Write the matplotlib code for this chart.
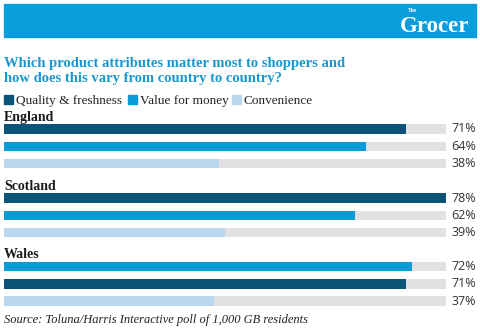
import matplotlib.pyplot as plt
import matplotlib.transforms as mtransforms
from matplotlib.patches import Rectangle

countries = ["England", "Scotland", "Wales"]
legend_names = ["Quality & freshness", "Value for money", "Convenience"]
# each group lists (series, value) in the order shown
group_series = [
    ["Quality & freshness", "Value for money", "Convenience"],
    ["Quality & freshness", "Value for money", "Convenience"],
    ["Value for money", "Quality & freshness", "Convenience"],
]
group_values = [
    [71, 64, 38],
    [78, 62, 39],
    [72, 71, 37],
]
colors = {"Quality & freshness": "#0b5377",
          "Value for money": "#0a9ad6",
          "Convenience": "#b9d7ef"}
track = "#e1e1e3"
blue = "#0a9ddb"

W, H = 480, 336
fig = plt.figure(figsize=(W / 100, H / 100), dpi=100)
fig.patch.set_facecolor("white")

def fx(x): return x / W
def fy(y): return 1 - y / H

# header band
fig.patches.append(Rectangle((fx(4), fy(37)), fx(472), 33 / H, transform=fig.transFigure,
                             color=blue, zorder=0))
fig.text(fx(469), fy(31.5), "Grocer", color="white", fontsize=16.5, fontweight="bold",
         family="Liberation Serif", ha="right", va="baseline")
fig.text(fx(413), fy(12.5), "The", color="white", fontsize=4, fontweight="bold",
         family="Liberation Serif", ha="center", va="baseline")

# title
fig.text(fx(4), fy(82), "Which product attributes matter most to shoppers and\nhow does this vary from country to country?",
         color="#1a97cf", fontsize=10.5, fontweight="bold", family="Liberation Serif",
         ha="left", va="baseline", linespacing=1.25)

# legend
lx = [4, 127.5, 232]
for name, x in zip(legend_names, lx):
    fig.patches.append(Rectangle((fx(x), fy(104)), fx(9), 9 / H, transform=fig.transFigure,
                                 color=colors[name]))
    fig.text(fx(x + 12), fy(104), name, fontsize=9.5, family="Liberation Serif",
             color="#222222", ha="left", va="baseline")

# bars
vmax = max(max(v) for v in group_values)
ax = fig.add_axes([fx(4), 0, fx(441.7), 1])
ax.set_xlim(0, vmax)
ax.set_ylim(H, 0)
ax.axis("off")
lab_tr = mtransforms.blended_transform_factory(fig.transFigure, ax.transData)

group_top = [129, 198, 266.5]
step = 17.3
for c, y0, names, vals in zip(countries, group_top, group_series, group_values):
    ax.text(0, y0 - 8.5, c, fontsize=10, fontweight="bold", family="Liberation Serif",
            color="#1a1a1a", ha="left", va="baseline")
    ys = [y0 + i * step for i in range(len(vals))]
    ax.barh(ys, [vmax] * len(vals), height=9.5, color=track, edgecolor="none")
    ax.barh(ys, vals, height=9.5, color=[colors[n] for n in names], edgecolor="none")
    for y, v in zip(ys, vals):
        ax.text(fx(476), y, f"{v}%", transform=lab_tr, fontsize=9, family="Open Sans",
                color="#333333", ha="right", va="center")

fig.text(fx(4), fy(323), "Source: Toluna/Harris Interactive poll of 1,000 GB residents",
         fontsize=9, family="Liberation Serif", style="italic", color="#222222",
         ha="left", va="baseline")

fig.savefig("out.png", dpi=100)
